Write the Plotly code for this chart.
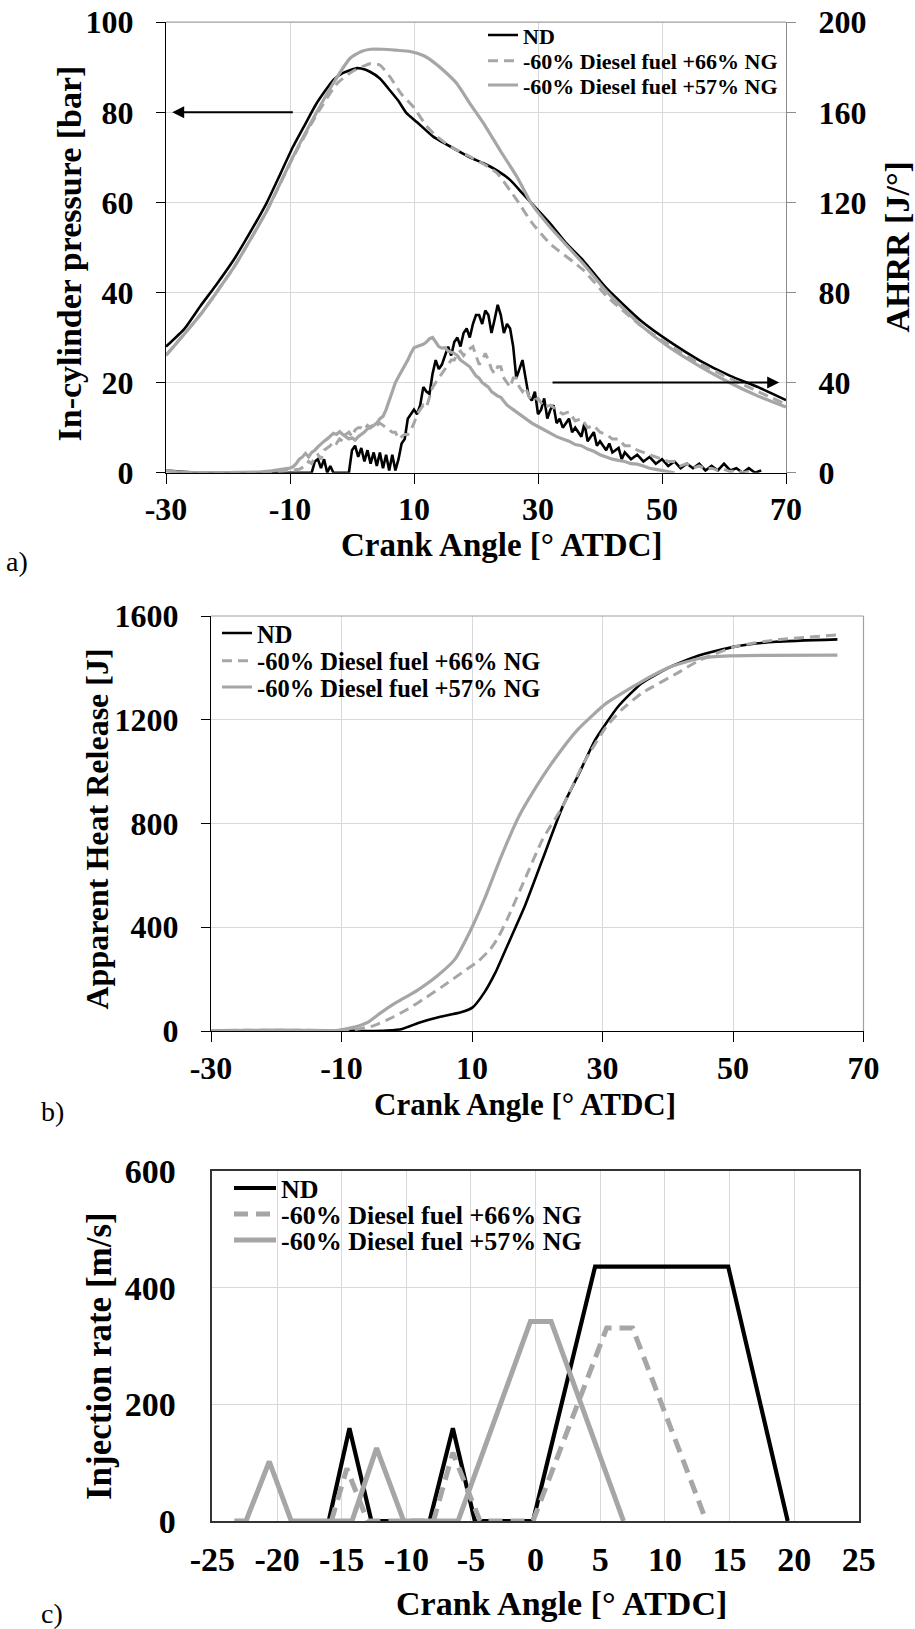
import plotly.graph_objects as go

# ---------------- Panel a: in-cylinder pressure [bar] ----------------
pa_ca_nd = [-30, -27, -24.5, -22, -19.1, -17, -13.8, -11.5, -9.5, -7.5, -5.7, -3, -1.5, 0.8, 1.5, 2.9, 4.5,
            6.1, 7.5, 8.8, 10.5, 13.1, 16.9, 19, 21.2, 23.5, 25.5, 27.5, 29.5, 31.9, 34.5, 37.3, 41, 46.7,
            51, 56.1, 61, 65.5, 70]
pa_nd = [28.0, 32.0, 36.9, 41.5, 47.2, 52.0, 59.8, 66.5, 72.4, 77.5, 82.0, 87.2, 88.7, 89.8, 89.7, 89.0, 87.5,
         84.9, 82.5, 79.8, 77.8, 74.6, 71.6, 70.0, 68.7, 67.0, 65.0, 62.0, 59.0, 55.4, 51.0, 47.1, 41.0, 33.6,
         29.3, 24.9, 21.5, 19.0, 16.1]

pa_ca_66 = [-30, -24.5, -19.1, -13.8, -9.5, -5.7, -2.4, 0, 2.9, 4.5, 6.1, 8, 9.9, 12, 13.7, 16, 19.1, 21.5,
            23.4, 26.6, 29, 31.9, 37.3, 41, 46.7, 51, 56.1, 61, 65.5, 70]
pa_66 = [26.1, 35.0, 45.5, 58.0, 70.0, 79.5, 86.4, 89.0, 90.8, 90.5, 87.9, 84.0, 81.2, 77.0, 74.6, 72.3, 70.1,
         68.3, 66.5, 60.5, 55.5, 50.9, 45.0, 39.3, 32.5, 28.5, 24.2, 20.9, 18.0, 15.2]

pa_ca_57 = [-30, -24.5, -19.1, -13.8, -9.5, -5.7, -3, -0.3, 1.5, 3, 5, 7, 9.4, 11.5, 13.1, 15, 16.9, 19, 21.2,
            24, 26.6, 29, 31.9, 37.3, 41, 46.7, 51, 56.1, 61, 65.5, 70]
pa_57 = [26.0, 35.0, 45.5, 58.0, 70.2, 80.0, 86.5, 92.0, 93.5, 94.0, 94.0, 93.8, 93.5, 92.6, 91.2, 89.0, 86.4,
         82.0, 77.6, 71.3, 65.7, 59.6, 54.6, 46.4, 40.3, 32.6, 28.0, 23.6, 19.9, 17.0, 14.6]

# ---------------- Panel a: AHRR [J/deg] ----------------
ah_ca_nd = [-30, -29, -27, -25, -20, -15, -10, -6.5, -6, -5.5, -5, -4.5, -4, -3.5, -3, -2, -1, -0.5, 0, 0.5,
            1, 1.5, 2, 2.5, 3, 3.5, 4, 4.5, 5, 5.5, 6, 6.5, 7, 7.5, 8, 8.5, 9, 9.5, 10, 10.5, 11, 11.5, 12,
            12.5, 13, 13.5, 14, 14.5, 15, 15.5, 16, 16.5, 17, 17.5, 18, 18.5, 19, 19.5, 20, 20.5, 21, 21.5,
            22, 22.5, 23, 23.5, 24, 24.5, 25, 25.5, 26, 26.5, 27, 27.5, 28, 28.5, 29, 29.5, 30, 30.5, 31,
            31.5, 32, 32.5, 33, 33.5, 34, 35, 35.5, 36, 37, 37.5, 38, 39, 39.5, 40, 41, 41.5, 42, 43, 43.5,
            44, 45, 46, 47, 48, 49, 50, 51, 52, 53, 54, 55, 56, 57, 58, 59, 60, 61, 62, 63, 64, 65, 66]
ah_nd = [1.0, 0.8, 0.3, 0, 0, 0, 0, 0, 5, 6, 2, 6, 0, 3, 0, 0, 0, 0, 10, 12,
         7, 11, 5, 10, 4, 9, 3, 9, 2, 8, 1, 8, 1, 6, 13, 15, 24, 26, 28, 26, 30, 38, 36,
         35, 44, 50, 46, 48, 52, 56, 52, 58, 60, 56, 62, 64, 60, 66, 70, 70, 66, 72,
         70, 62, 68, 74.5, 70, 62, 66, 64, 56, 42, 46, 50, 42, 34, 32, 36, 26, 28, 33,
         24, 28, 30, 22, 24, 20, 24, 18, 20, 16, 22, 14, 18, 12, 14, 10, 13, 9, 11, 6,
         9, 6, 8, 5, 7, 4, 6, 3, 5, 2, 4, 2, 4, 1, 3, 1, 4, 1, 2, 0, 2, 0, 1]

ah_ca_66 = [-30, -29, -26, -20, -15, -12, -10, -8.5, -7.5, -7, -6.5, -6, -5.5, -5, -4.5, -4, -3.5, -3, -2.5,
            -2, -1.5, -1, -0.5, 0, 0.5, 1, 1.5, 2, 2.5, 3, 3.5, 4, 4.5, 5, 5.5, 6, 6.5, 7, 7.5, 8, 8.5, 9,
            9.5, 10, 10.5, 11, 11.5, 12, 12.5, 13, 13.5, 14, 14.5, 15, 15.5, 16, 16.5, 17, 17.5, 18, 18.5,
            19, 19.5, 20, 20.5, 21, 21.5, 22, 22.5, 23, 23.5, 24, 24.5, 25, 25.5, 26, 26.5, 27, 27.5, 28,
            28.5, 29, 30, 31, 32, 33, 34, 35, 36, 37, 38, 39, 40, 41, 42, 43, 44, 45, 46, 47, 48, 49, 50,
            51, 52, 53, 54, 55, 56, 57, 58, 59, 60, 61, 62, 63, 64, 65]
ah_66 = [0.8, 0.5, 0, 0, 0, 0.5, 1, 1.5, 3, 5, 4, 7, 8, 6, 10, 11, 12, 14, 13,
         15, 14, 17, 18, 16, 19, 20, 20, 19, 21, 20, 22, 21, 22, 21, 20, 19, 18, 18, 15, 16, 17, 17,
         19, 22, 26, 28, 30, 29, 34, 38, 40, 42, 44, 46, 48, 50, 50, 53, 54, 52, 54,
         55, 56, 52, 48, 50, 53, 50, 46, 44, 47, 47, 42, 40, 38, 42, 42, 38, 36, 38,
         34, 32, 33, 29, 30, 28, 26, 27, 23, 24, 20, 21, 18, 17, 15, 15, 12, 12, 10, 9, 8, 7, 6,
         5, 5, 3, 4, 2, 3, 1.5, 2, 1, 1.5, 0.5, 1, 0, 0.5, 0]

ah_ca_57 = [-30, -29, -27, -25, -20, -15, -13, -11, -10, -9.5, -9, -8.5, -8, -7.5, -7, -6.5, -6, -5.5, -5,
            -4.5, -4, -3.5, -3, -2.5, -2, -1.5, -1, -0.5, 0, 0.5, 1, 1.5, 2, 2.5, 3, 3.5, 4, 4.5, 5, 5.5,
            6, 6.5, 7, 7.5, 8, 8.5, 9, 9.5, 10, 10.5, 11, 11.5, 12, 12.5, 13, 13.5, 14, 14.5, 15, 15.5, 16,
            16.5, 17, 17.5, 18, 18.5, 19, 19.5, 20, 20.5, 21, 21.5, 22, 22.5, 23, 23.5, 24, 24.5, 25, 26,
            27, 28, 29, 30, 31, 32, 33, 34, 35, 36, 37, 38, 39, 40, 41, 42, 43, 44, 45, 46, 47, 48, 49,
            50, 51, 52]
ah_57 = [1.0, 0.5, 0.2, 0, 0, 0.3, 0.8, 1.5, 2, 2.7, 4, 6, 7, 8.6, 7, 9, 10, 11.5, 13,
         14, 15, 16.5, 17.5, 17, 18.2, 17, 16, 15, 15.5, 14.5, 16, 17, 18, 19.5, 20, 21, 22, 24, 25, 28,
         32, 36, 40, 42.6, 45, 47, 50, 53, 55.5, 56, 56.5, 57, 58, 59.5, 60, 58, 56, 55.3, 55.5, 54, 53.5,
         53, 52, 50, 49, 48, 47, 45, 43, 42, 40, 39, 38, 36, 35, 34, 33.5, 32, 30, 28,
         26, 24, 22, 20.5, 19, 17.6, 16, 15, 14, 12.5, 12, 10.5, 9.5, 8, 7, 6, 5.5, 5, 4, 3.8, 3, 2, 1.5,
         1, 0.5, 0]

# ---------------- Panel b: apparent heat release [J] ----------------
hr_ca_nd = [-30, -20, -10, -6, -3, -0.7, 2, 4.7, 8.3, 10.1, 11.9, 13.6, 15.4, 18.1, 20.8, 23.9, 26.2, 28.9,
            32.4, 36, 40.5, 45, 50.3, 56.6, 66]
hr_nd = [2, 3, 1, 0, 2, 8, 33, 52, 72, 91, 149, 226, 328, 482, 661, 866, 982, 1123,
         1251, 1341, 1405, 1450, 1482, 1501, 1510]

hr_ca_66 = [-30, -20, -10, -8.7, -5.1, -2, 0.2, 3, 5.6, 9.2, 11, 12.8, 14, 15.4, 18.1, 20.8, 23.9, 27.1,
            30.6, 33, 36, 41.4, 45, 50.3, 56.6, 66]
hr_66 = [2, 3, 2, 3, 20, 55, 85, 130, 174, 238, 270, 315, 360, 431, 585, 738, 866, 1033,
         1174, 1240, 1302, 1379, 1431, 1482, 1508, 1527]

hr_ca_57 = [-30, -20, -12, -10.5, -8, -6, -4, -1.6, 1.5, 4.7, 7.4, 10.1, 11.9, 14.5, 17.2, 19.9, 22.6, 26.2,
            30.6, 36, 40.5, 45, 49.4, 55, 66]
hr_57 = [2, 3, 2, 3, 15, 33, 70, 110, 155, 213, 277, 405, 508, 674, 828, 944, 1046, 1162,
         1264, 1347, 1405, 1437, 1446, 1448, 1449]

# ---------------- Panel c: injection rate [m/s] ----------------
ir_ca_nd = [-16.0, -14.4, -12.7, -8.2, -6.4, -4.7, -0.2, 4.6, 14.9, 19.5]
ir_nd = [0, 159, 0, 0, 159, 0, 0, 436, 436, 0]

ir_ca_66 = [-15.8, -14.6, -13.0, -7.9, -6.4, -4.3, -0.2, 5.5, 7.5, 13.2]
ir_66 = [0, 90, 0, 0, 117, 0, 0, 331, 331, 0]

ir_ca_57 = [-23.3, -22.4, -20.6, -18.9, -14.2, -12.3, -10.2, -6.0, -0.4, 1.2, 6.8]
ir_57 = [0, 0, 102, 0, 0, 125, 0, 0, 342, 342, 0]

# ---------------- tick labels ----------------
ab_xticks = [-30, -10, 10, 30, 50, 70]
ab_xticktext = ["-30", "-10", "10", "30", "50", "70"]
c_xticks = [-25, -20, -15, -10, -5, 0, 5, 10, 15, 20, 25]
c_xticktext = ["-25", "-20", "-15", "-10", "-5", "0", "5", "10", "15", "20", "25"]

names = ["ND", "-60% Diesel fuel +66% NG", "-60% Diesel fuel +57% NG"]

BLACK = "#000000"
GRAY = "#a6a6a6"
SERIF = "Liberation Serif"

W, H = 915, 1629


def px_x(v):
    return v / W


def px_y(v):
    return 1 - v / H


# legend ids per panel (row order ND, 66%, 57%)
leg_a = ["legend", "legend2", "legend3"]
leg_b = ["legend4", "legend5", "legend6"]
leg_c = ["legend7", "legend8", "legend9"]

fig = go.Figure()

# panel a - pressure
fig.add_trace(go.Scatter(x=pa_ca_nd, y=pa_nd, mode="lines", name=names[0], legend=leg_a[0],
                         line=dict(color=BLACK, width=2.6, shape="spline", smoothing=0.5),
                         xaxis="x", yaxis="y"))
fig.add_trace(go.Scatter(x=pa_ca_66, y=pa_66, mode="lines", name=names[1], legend=leg_a[1],
                         line=dict(color=GRAY, width=3, dash="10px,6px", shape="spline", smoothing=0.5),
                         xaxis="x", yaxis="y"))
fig.add_trace(go.Scatter(x=pa_ca_57, y=pa_57, mode="lines", name=names[2], legend=leg_a[2],
                         line=dict(color=GRAY, width=3.2, shape="spline", smoothing=0.5),
                         xaxis="x", yaxis="y"))
# panel a - AHRR
fig.add_trace(go.Scatter(x=ah_ca_nd, y=ah_nd, mode="lines", showlegend=False,
                         line=dict(color=BLACK, width=2.6), xaxis="x", yaxis="y4"))
fig.add_trace(go.Scatter(x=ah_ca_66, y=ah_66, mode="lines", showlegend=False,
                         line=dict(color=GRAY, width=3, dash="10px,6px"), xaxis="x", yaxis="y4"))
fig.add_trace(go.Scatter(x=ah_ca_57, y=ah_57, mode="lines", showlegend=False,
                         line=dict(color=GRAY, width=3.2), xaxis="x", yaxis="y4"))

# panel b
fig.add_trace(go.Scatter(x=hr_ca_nd, y=hr_nd, mode="lines", name=names[0], legend=leg_b[0],
                         line=dict(color=BLACK, width=2.6, shape="spline", smoothing=0.5),
                         xaxis="x2", yaxis="y2"))
fig.add_trace(go.Scatter(x=hr_ca_66, y=hr_66, mode="lines", name=names[1], legend=leg_b[1],
                         line=dict(color=GRAY, width=3, dash="10px,6px", shape="spline", smoothing=0.5),
                         xaxis="x2", yaxis="y2"))
fig.add_trace(go.Scatter(x=hr_ca_57, y=hr_57, mode="lines", name=names[2], legend=leg_b[2],
                         line=dict(color=GRAY, width=3.2, shape="spline", smoothing=0.5),
                         xaxis="x2", yaxis="y2"))

# panel c
fig.add_trace(go.Scatter(x=ir_ca_nd, y=ir_nd, mode="lines", name=names[0], legend=leg_c[0],
                         line=dict(color=BLACK, width=4.2), xaxis="x3", yaxis="y3"))
fig.add_trace(go.Scatter(x=ir_ca_66, y=ir_66, mode="lines", name=names[1], legend=leg_c[1],
                         line=dict(color=GRAY, width=5, dash="14px,8px"), xaxis="x3", yaxis="y3"))
fig.add_trace(go.Scatter(x=ir_ca_57, y=ir_57, mode="lines", name=names[2], legend=leg_c[2],
                         line=dict(color=GRAY, width=5), xaxis="x3", yaxis="y3"))


def tfont(size):
    return dict(family=SERIF, size=size, color="black", weight="bold")


common_x = dict(ticks="outside", ticklen=10, tickcolor="black", tickwidth=1.2, showline=True,
                linecolor="black", linewidth=1.3, showgrid=True, gridcolor="#d9d9d9", gridwidth=1,
                zeroline=False, ticklabelstandoff=-2, tickmode="array", tickvals=ab_xticks,
                ticktext=ab_xticktext)
common_y = dict(ticks="outside", ticklen=9, tickcolor="black", tickwidth=1.2, showline=True,
                linecolor="black", linewidth=1.3, showgrid=True, gridcolor="#d9d9d9", gridwidth=1,
                zeroline=False, ticklabelstandoff=16)


def legend_row(x, top, size, itemwidth=30):
    return dict(x=px_x(x), y=px_y(top), xanchor="left", yanchor="top", bgcolor="rgba(0,0,0,0)",
                borderwidth=0, itemwidth=itemwidth,
                font=dict(family=SERIF, size=size, color="black", weight="bold"))


layout_legends = {}
for lid, top in zip(leg_a, [14.2, 39.9, 64.2]):
    layout_legends[lid] = legend_row(483, top, 22)
for lid, top in zip(leg_b, [610.6, 638.2, 664.6]):
    layout_legends[lid] = legend_row(217, top, 24.5)
for lid, top in zip(leg_c, [1164.6, 1190.6, 1216.6]):
    layout_legends[lid] = legend_row(229, top, 26, itemwidth=42)

fig.update_layout(
    width=W, height=H, margin=dict(l=0, r=0, t=0, b=0, autoexpand=False),
    paper_bgcolor="white", plot_bgcolor="white",
    font=dict(family=SERIF, color="black"),
    xaxis=dict(domain=[px_x(166), px_x(786)], anchor="y", range=[-30, 70],
               tickfont=tfont(32), **common_x),
    yaxis=dict(domain=[px_y(472.7), px_y(22.2)], anchor="x", range=[0, 100], tick0=0, dtick=20,
               tickfont=tfont(32), **common_y),
    yaxis4=dict(overlaying="y", side="right", anchor="x", range=[0, 200], tick0=0, dtick=40,
                ticks="outside", ticklen=9, tickcolor="#8c8c8c", showline=True, linecolor="#8c8c8c",
                linewidth=1.3, showgrid=False, zeroline=False, tickfont=tfont(32), ticklabelstandoff=16),
    xaxis2=dict(domain=[px_x(211), px_x(863.5)], anchor="y2", range=[-30, 70],
                tickfont=tfont(32), **common_x),
    yaxis2=dict(domain=[px_y(1031), px_y(616)], anchor="x2", range=[0, 1600], tick0=0, dtick=400,
                tickfont=tfont(32), **common_y),
    xaxis3=dict(domain=[px_x(212.4), px_x(858.8)], anchor="y3", range=[-25, 25],
                tickmode="array", tickvals=c_xticks, ticktext=c_xticktext,
                ticks="", showline=True, linecolor="#333333", linewidth=1.6, mirror=True,
                showgrid=True, gridcolor="#d9d9d9", zeroline=False, tickfont=tfont(34),
                ticklabelstandoff=7),
    yaxis3=dict(domain=[px_y(1521), px_y(1171)], anchor="x3", range=[0, 600], tick0=0, dtick=200,
                ticks="", showline=True, linecolor="#333333", linewidth=1.6, mirror=True,
                showgrid=True, gridcolor="#d9d9d9", zeroline=False, tickfont=tfont(34),
                ticklabelstandoff=28),
    **layout_legends,
)

# white patches behind the legends (hide gridlines only; drawn between grid and traces)
for x0, x1, y0, y1 in [(485, 783, 23, 98), (219, 545, 617, 699), (231, 590, 1172, 1254)]:
    fig.add_shape(type="rect", xref="paper", yref="paper", x0=px_x(x0), x1=px_x(x1),
                  y0=px_y(y1), y1=px_y(y0), layer="between", line=dict(width=0),
                  fillcolor="white")

# frame lines (top of panel a, top/right of panel b)
fig.add_shape(type="line", xref="x domain", yref="y domain", x0=0, x1=1, y0=1, y1=1,
              line=dict(color="#a0a0a0", width=1.2))
fig.add_shape(type="line", xref="x2 domain", yref="y2 domain", x0=0, x1=1, y0=1, y1=1,
              line=dict(color="#a0a0a0", width=1.2))
fig.add_shape(type="line", xref="x2 domain", yref="y2 domain", x0=1, x1=1, y0=0, y1=1,
              line=dict(color="#a0a0a0", width=1.2))

# arrows in panel a
fig.add_annotation(x=-29, y=80, ax=-9.3, ay=80, xref="x", yref="y", axref="x", ayref="y",
                   text="", showarrow=True, arrowhead=2, arrowsize=1.2, arrowwidth=2, arrowcolor="black")
fig.add_annotation(x=68.9, y=40, ax=32.1, ay=40, xref="x", yref="y4", axref="x", ayref="y4",
                   text="", showarrow=True, arrowhead=2, arrowsize=1.2, arrowwidth=2, arrowcolor="black")


def title(text, x, y, size, angle=0):
    fig.add_annotation(text=text, x=px_x(x), y=px_y(y), xref="paper", yref="paper",
                       showarrow=False, textangle=angle, xanchor="center", yanchor="middle",
                       font=dict(family=SERIF, size=size, color="black", weight="bold"))


title("In-cylinder pressure [bar]", 69, 253.5, 34, -90)
title("AHRR [J/°]", 897, 247.5, 34, -90)
title("Crank Angle [° ATDC]", 502, 545, 33)
title("Apparent Heat Release [J]", 96, 829.5, 32, -90)
title("Crank Angle [° ATDC]", 525, 1104, 31)
title("Injection rate [m/s]", 99, 1356, 35, -90)
title("Crank Angle [° ATDC]", 561, 1603, 34)

for lab, lx, ly in [("a)", 17, 561), ("b)", 52, 1111), ("c)", 52, 1613)]:
    fig.add_annotation(text=lab, x=px_x(lx), y=px_y(ly), xref="paper", yref="paper", showarrow=False,
                       xanchor="center", yanchor="middle",
                       font=dict(family=SERIF, size=28, color="black"))

fig.write_html("out.html")
